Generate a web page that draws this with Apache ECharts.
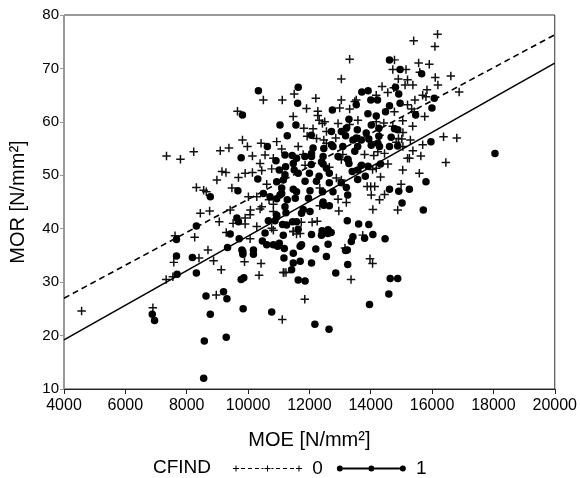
<!DOCTYPE html>
<html>
<head>
<meta charset="utf-8">
<script src="https://cdn.jsdelivr.net/npm/echarts@6/dist/echarts.min.js"></script>
<style>
html,body{margin:0;padding:0;background:#fff;}
#chart{width:580px;height:478px;}
</style>
</head>
<body>
<div id="chart"></div>
<script>
// ---- Data ----
const xTicks = [4000, 6000, 8000, 10000, 12000, 14000, 16000, 18000, 20000];
const yTicks = [10, 20, 30, 40, 50, 60, 70, 80];
const legendTitle = 'CFIND';
const groupNames = ['0', '1'];

// CFIND = 0 (MOE, MOR)
const cfind0 = [
[10500,64.1],[11116,64.1],[11506,65.2],[9656,62.0],[11473,61.0],[7342,53.6],[7797,53.0],[8229,54.4],[9095,54.6],[9377,55.1],
[9818,56.6],[9980,55.4],[10143,53.6],[10425,56.0],[10555,53.8],[10393,52.2],[10934,56.3],[11097,54.9],[11636,55.4],[9150,50.7],
[9280,50.5],[8985,49.1],[9688,49.6],[9906,50.4],[10143,50.5],[10446,50.9],[10771,51.2],[8316,47.7],[8553,47.2],[8640,46.9],
[10013,46.0],[10285,46.0],[10684,45.4],[8445,42.9],[8748,43.3],[9419,43.5],[10078,43.5],[10393,43.7],[10826,43.2],
[4574,24.6],[6898,25.2],[7330,30.5],[7550,31.0],[7580,33.7],[7620,38.7],[8261,38.4],[8402,34.5],[8694,36.0],[8877,34.0],
[9127,32.3],[8964,27.6],[11116,23.0],[9290,39.3],[9062,41.3],[9512,41.0],[9906,40.9],[10068,42.6],[10068,38.1],[9885,33.8],
[10360,31.3],[10425,33.5],[10771,40.1],[10826,39.7],[11236,31.8],[11150,31.8],[11474,39.5],[10826,44.6],
[16179,76.4],[16093,74.1],[15400,75.2],[13313,71.7],[13042,68.0],[14775,71.6],[15562,71.0],[15909,70.8],[14720,69.8],[15150,69.8],
[16104,68.3],[16612,68.6],[14900,68.0],[15200,67.9],[15374,66.9],[15834,66.0],[16190,66.9],[16883,65.6],[12210,64.4],[14369,66.6],
[14753,66.4],[13042,64.1],[13528,64.1],[13480,63.8],[15200,63.2],[15440,64.1],[15800,64.7],[12275,62.0],[14772,61.9],[15418,61.9],
[15760,61.0],[12275,61.2],[11820,58.8],[12120,58.7],[12425,59.7],[12935,59.7],[13313,59.5],[14180,60.0],[14720,59.2],[15050,58.0],
[11927,57.3],[12860,57.0],[13637,56.8],[14830,56.2],[15012,56.8],[16374,57.2],[16806,57.0],[16450,52.4],[15634,53.6],[15374,54.6],
[15200,53.2],[15043,51.0],[15585,50.4],[14990,48.3],[14130,47.9],[14450,46.4],[14880,43.5],[14070,43.6],[15050,55.4],[12555,56.0],
[13090,53.9],[14100,53.7],[14450,54.1],[11797,53.9],[11860,51.9],[12650,51.5],[13590,51.3],[14060,51.1],[14560,52.1],[12880,49.5],
[14000,47.9],[12340,47.6],[12935,45.5],[13205,44.9],[12960,43.3],[12340,44.3],
[13740,38.8],[12255,41.4],[12090,41.2],[11475,39.5],[11700,39.1],[11735,41.2],[13160,36.4],[13976,34.4],[14060,33.5],[13358,30.5],
[11170,31.8],[11850,26.8],
[11907,62.5],[12320,60.3],[12500,60.0],[12233,56.9],[12557,58.2],[12470,56.6],[15600,69.3],[15120,66.9],[14556,65.5],[15694,65.0],
[14180,65.0],[12988,62.6],[13313,62.4],[15335,62.4],[13583,60.3],[14427,59.8],[15043,60.2],[14287,57.5],[15368,59.2],[14017,56.3],
[14904,56.9],[15293,56.6],[15694,55.7],[13800,53.9],[14232,54.4],[10825,53.2],[10609,48.3],[9474,47.6],[10447,44.1],[9906,42.0],
[10285,40.4],[11582,39.0],[13042,52.9],[15260,53.2],[14180,51.3],[14320,49.7],[13042,49.1],[13885,47.9],[14017,46.3],[14287,45.4]
];

// CFIND = 1 (MOE, MOR)
const cfind1 = [
[10338,65.8],[11636,66.5],[11617,63.5],[9818,61.3],[11042,59.4],[11561,59.4],[11279,57.4],[9776,53.3],[10630,55.4],[10912,52.7],
[11441,53.7],[11019,51.0],[11225,51.6],[11506,51.0],[10318,49.3],[11149,49.1],[11097,47.6],[8770,46.0],[9669,47.1],[10500,46.6],
[11097,46.6],[11279,45.4],[10934,45.6],[11204,44.1],[11236,43.0],
[6878,24.0],[6953,22.8],[7667,34.9],[7667,38.0],[8316,40.5],[8186,34.6],[8316,31.7],[7688,31.5],[8630,27.4],[8770,24.0],
[8575,19.0],[8553,12.0],[9202,28.2],[9311,26.9],[9289,19.7],[9841,25.0],[10771,24.4],[9419,39.0],[9332,36.5],[9688,41.3],
[9711,38.1],[9831,35.7],[9831,35.2],[9776,30.5],[9862,30.8],[10176,36.0],[10176,35.2],[10468,37.7],[10609,37.0],[10555,39.2],
[10663,41.5],[10880,41.5],[11019,37.3],[10966,36.7],[11182,36.3],[11171,34.5],[11420,32.3],[11452,41.3],[11474,33.6],[11636,30.4],
[10934,42.5],
[14612,71.6],[14958,69.8],[15660,69.0],[13915,65.8],[14222,64.1],[14003,64.1],[14806,66.5],[14913,65.2],[13528,63.2],[14612,63.0],
[14958,63.5],[16072,64.4],[15996,62.6],[12750,62.2],[13290,60.5],[14180,61.1],[14482,61.9],[15465,61.3],[12719,58.2],[13205,58.8],
[14020,59.4],[14266,58.8],[14775,58.7],[14882,58.5],[12063,57.5],[13180,57.4],[13528,57.0],[13937,56.8],[14266,57.3],[14666,57.1],
[15963,56.3],[18051,54.1],[15801,48.8],[14612,47.4],[14915,47.0],[15260,47.4],[15022,44.8],[15715,43.5],[14287,55.4],[14880,55.5],
[14612,55.4],[14017,55.6],[12770,55.4],[13090,55.4],[13575,55.4],[12120,55.1],[12447,53.5],[12935,53.5],[13250,53.0],[13480,54.5],
[11204,53.8],[12063,52.0],[12447,52.1],[13290,52.2],[13700,51.9],[13915,51.7],[14320,52.1],[11475,52.2],[11636,50.4],[12000,50.4],
[12317,49.8],[12650,50.4],[13397,50.7],[13823,49.8],[13575,49.2],[11860,48.9],[12230,48.9],[12650,48.6],[13040,48.6],[13205,47.7],
[11475,47.4],[12020,47.1],[12427,46.9],[12770,46.9],[13250,46.3],[11540,45.7],[11970,45.7],[12447,45.0],[12650,44.3],[11800,43.6],
[12020,43.2],
[13236,41.5],[13605,40.9],[13937,40.8],[14070,38.9],[13800,38.2],[13367,37.6],[13420,38.5],[14468,38.1],[12070,38.9],[12415,39.6],
[12600,39.1],[12710,39.3],[11635,39.9],[11127,40.8],[11700,36.7],[11475,35.4],[12210,36.2],[12555,34.8],[13180,35.9],[11700,33.9],
[12070,33.6],[13250,33.3],[12860,31.7],[11860,30.2],[14635,30.7],[14880,30.7],[14590,27.8],[13960,25.8],[12180,22.1],[12640,21.2],
[12470,55.0],[12070,54.1],[11853,53.5],[13710,65.6],[13908,61.5],[13042,58.2],[13563,58.5],[13853,57.9],[13420,56.6],[13693,56.6],
[14232,56.0],[12720,55.7],[11582,53.2],[12070,53.5],[12395,52.5],[11204,50.1],[12557,51.3],[10934,48.8],[10717,46.0],[11042,46.3],
[11582,46.9],[12470,44.4],[9636,42.0],[10934,42.2],[11258,40.7],[11582,41.3],[11745,42.9],[12395,38.8],[10825,37.0],[11150,38.8],
[9800,36.0],[11745,37.0],[12610,37.1],[13258,52.9],[13583,51.0],[12610,39.8],[13236,36.0]
];

// Regression lines (MOE endpoints, fitted MOR)
const fitX = [4000, 20000];
const fit0 = [27.0, 76.3];
const fit1 = [19.2, 71.0];

// ---- Styles / icons ----
const FONT = "'Liberation Sans', Arial, sans-serif";
const plusSymbol = 'path://M3.3,0H4.7V3.3H8V4.7H4.7V8H3.3V4.7H0V3.3H3.3Z';

function plusPath(cx, cy, h, t) {
  const a = t / 2;
  return 'M' + (cx - a) + ',' + (cy - h) + 'H' + (cx + a) + 'V' + (cy - a) + 'H' + (cx + h) + 'V' + (cy + a) +
    'H' + (cx + a) + 'V' + (cy + h) + 'H' + (cx - a) + 'V' + (cy + a) + 'H' + (cx - h) + 'V' + (cy - a) + 'H' + (cx - a) + 'Z';
}
function rectPath(x0, x1, cy, t) {
  return 'M' + x0 + ',' + (cy - t / 2) + 'H' + x1 + 'V' + (cy + t / 2) + 'H' + x0 + 'Z';
}
function circPath(cx, cy, r) {
  return 'M' + (cx - r) + ',' + cy + 'A' + r + ',' + r + ',0,1,1,' + (cx + r) + ',' + cy +
    'A' + r + ',' + r + ',0,1,1,' + (cx - r) + ',' + cy + 'Z';
}
// icons: bounding box 0..69 x 0..6
const icon0 = 'path://' + plusPath(3, 3, 3, 1) + plusPath(34.5, 3, 3, 1) + plusPath(66, 3, 3, 1) +
  rectPath(8, 12, 3, 1) + rectPath(15, 19, 3, 1) + rectPath(22, 26, 3, 1) + rectPath(28.5, 30.5, 3, 1) +
  rectPath(38.5, 40.5, 3, 1) + rectPath(43, 47, 3, 1) + rectPath(50, 54, 3, 1) + rectPath(57, 61, 3, 1);
const icon1 = 'path://' + circPath(3, 3, 3) + circPath(34.5, 3, 3) + circPath(66, 3, 3) +
  rectPath(6, 31.5, 3, 1.8) + rectPath(37.5, 63, 3, 1.8);

const chart = echarts.init(document.getElementById('chart'), null, {renderer: 'canvas'});
const option = {
  animation: false,
  backgroundColor: '#fff',
  textStyle: {fontFamily: FONT},
  title: {
    text: legendTitle, left: 153, top: 458, padding: 0,
    textStyle: {fontFamily: FONT, fontSize: 19, fontWeight: 'normal', color: '#000'}
  },
  legend: {
    left: 233, top: 459, padding: 0, itemGap: 14, itemWidth: 69, itemHeight: 6,
    selectedMode: false,
    formatter: n => ' ' + n,
    itemStyle: {color: '#000', borderWidth: 0},
    textStyle: {fontFamily: FONT, fontSize: 19, color: '#000'},
    data: [{name: groupNames[0], icon: icon0}, {name: groupNames[1], icon: icon1}]
  },
  grid: {left: 63, right: 24, top: 15, bottom: 89, show: true, borderColor: '#333', borderWidth: 1, backgroundColor: 'transparent'},
  xAxis: {
    type: 'value', min: xTicks[0], max: xTicks[xTicks.length - 1], interval: xTicks[1] - xTicks[0],
    name: 'MOE [N/mm²]', nameLocation: 'middle', nameGap: 41,
    nameTextStyle: {fontFamily: FONT, fontSize: 20, color: '#000'},
    axisLine: {lineStyle: {color: '#222', width: 1}},
    axisTick: {show: true, inside: false, length: 5, lineStyle: {color: '#222'}},
    axisLabel: {fontFamily: FONT, fontSize: 16, color: '#000', margin: 9, formatter: v => String(v)},
    splitLine: {show: false}
  },
  yAxis: {
    type: 'value', min: yTicks[0], max: yTicks[yTicks.length - 1], interval: yTicks[1] - yTicks[0],
    name: 'MOR [N/mm²]', nameLocation: 'middle', nameGap: 36, nameRotate: 90,
    nameTextStyle: {fontFamily: FONT, fontSize: 20, color: '#000'},
    axisLine: {lineStyle: {color: '#999', width: 1}},
    axisTick: {show: true, inside: false, length: 4, lineStyle: {color: '#999'}},
    axisLabel: {fontFamily: FONT, fontSize: 15, color: '#000', margin: 5},
    splitLine: {show: false}
  },
  series: [
    {
      name: groupNames[0], type: 'scatter', data: cfind0,
      symbol: plusSymbol, symbolSize: 8.5,
      itemStyle: {color: '#111', opacity: 1}, z: 2
    },
    {
      name: groupNames[1], type: 'scatter', data: cfind1,
      symbol: 'circle', symbolSize: 7.5,
      itemStyle: {color: '#000', opacity: 1}, z: 3
    },
    {
      name: groupNames[0], type: 'line', data: fitX.map((x, i) => [x, fit0[i]]),
      showSymbol: false, symbol: 'none', silent: true,
      lineStyle: {color: '#000', width: 1.6, type: [6, 4]}, itemStyle: {color: '#000'}, z: 4
    },
    {
      name: groupNames[1], type: 'line', data: fitX.map((x, i) => [x, fit1[i]]),
      showSymbol: false, symbol: 'none', silent: true,
      lineStyle: {color: '#000', width: 1.6}, itemStyle: {color: '#000'}, z: 4
    }
  ]
};
chart.setOption(option);
</script>
</body>
</html>
